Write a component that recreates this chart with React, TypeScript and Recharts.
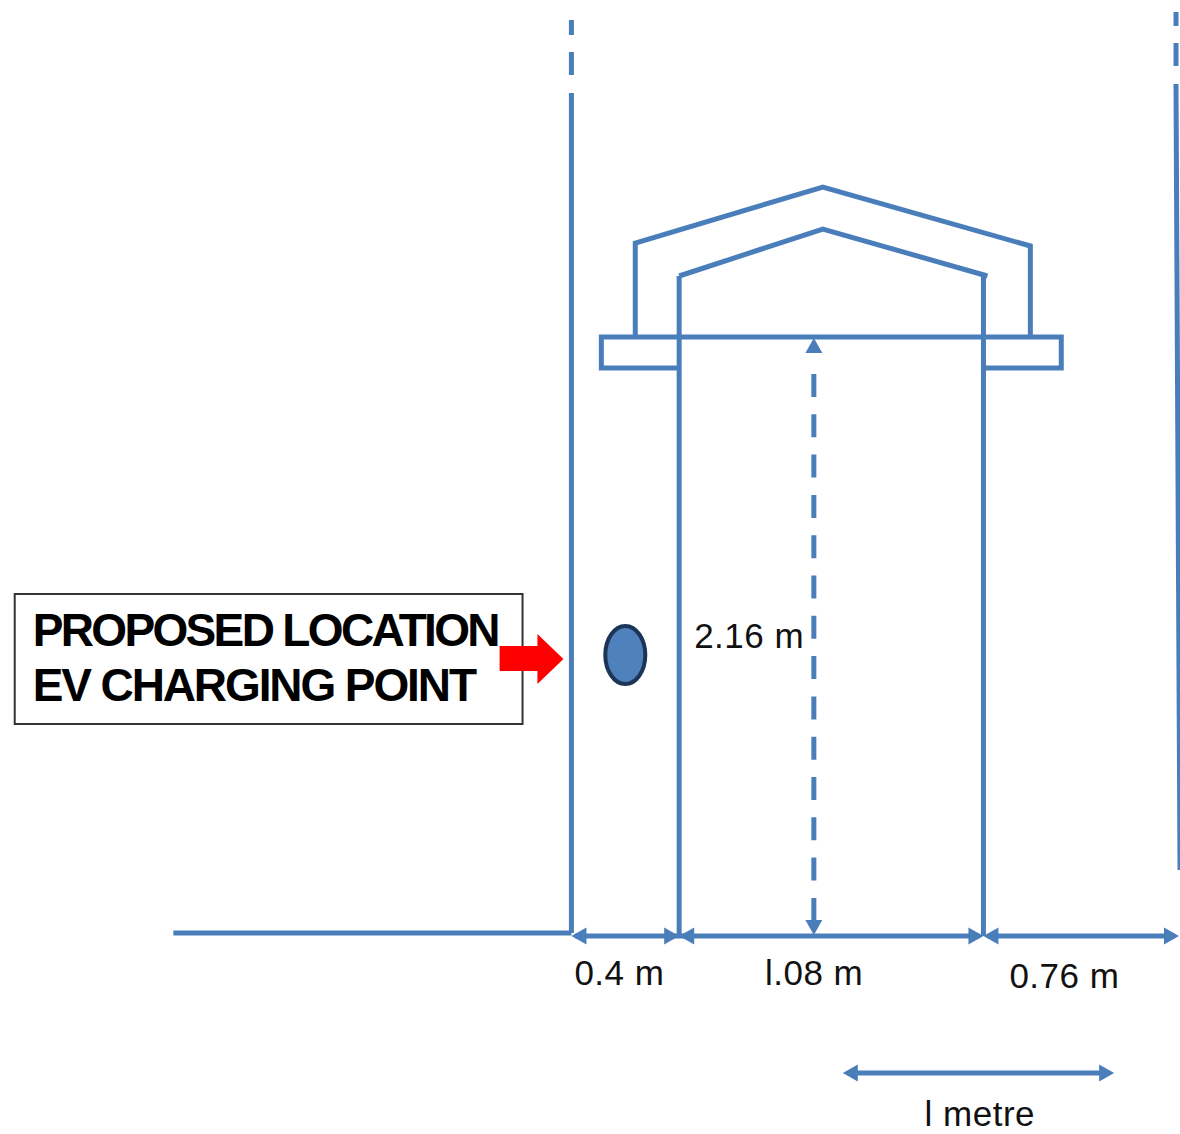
import { ComposedChart, Line, ReferenceArea, Scatter, XAxis, YAxis } from "recharts";

const WIDTH = 1180;
const HEIGHT = 1134;
const BLUE = "#4a7ebb";

type Pt = { x: number; y: number };

// walls
const leftWallDashes: Pt[][] = [
  [{ x: 572, y: 20 }, { x: 572, y: 35 }],
  [{ x: 572, y: 52 }, { x: 572, y: 75 }],
];
const leftWall: Pt[] = [{ x: 572, y: 93 }, { x: 572, y: 933 }];
const rightWallDashes: Pt[][] = [
  [{ x: 1178, y: 12 }, { x: 1178, y: 26 }],
  [{ x: 1178, y: 43 }, { x: 1178, y: 66 }],
];
// drifts off the right edge of the picture on the way down
const rightWall: Pt[] = [{ x: 1178, y: 84 }, { x: 1182, y: 870 }];
const ground: Pt[] = [{ x: 173, y: 933 }, { x: 572, y: 933 }];

// porch
const roofOuter: Pt[] = [
  { x: 636, y: 336 },
  { x: 636, y: 243 },
  { x: 824, y: 187 },
  { x: 1032, y: 246 },
  { x: 1032, y: 336 },
];
const roofInner: Pt[] = [
  { x: 680, y: 276 },
  { x: 824, y: 229 },
  { x: 989, y: 276 },
];
const canopy: Pt[] = [
  { x: 680, y: 368 },
  { x: 602, y: 368 },
  { x: 602, y: 337 },
  { x: 1063, y: 337 },
  { x: 1063, y: 368 },
  { x: 985, y: 368 },
];
const doorLeft: Pt[] = [{ x: 680, y: 276 }, { x: 680, y: 936 }];
const doorRight: Pt[] = [{ x: 985, y: 276 }, { x: 985, y: 936 }];

// dimensions
const heightDim: Pt[] = [{ x: 815, y: 374 }, { x: 815, y: 925 }];
const widthDims: Pt[][] = [
  [{ x: 576, y: 936 }, { x: 694, y: 936 }],
  [{ x: 684, y: 936 }, { x: 981, y: 936 }],
  [{ x: 989, y: 936 }, { x: 1176, y: 936 }],
];
const metreDim: Pt[] = [{ x: 850, y: 1073 }, { x: 1110, y: 1073 }];

const arrowHeads = [
  { x: 572, y: 936, dir: "left" },
  { x: 680, y: 936, dir: "right" },
  { x: 680, y: 936, dir: "left" },
  { x: 985, y: 936, dir: "right" },
  { x: 985, y: 936, dir: "left" },
  { x: 1181, y: 936, dir: "right" },
  { x: 844, y: 1073, dir: "left" },
  { x: 1116, y: 1073, dir: "right" },
  { x: 815, y: 338, dir: "up" },
  { x: 815, y: 935, dir: "down" },
];

const pointerShaft: Pt[] = [{ x: 500, y: 658.5 }, { x: 540, y: 658.5 }];
const pointerTip = [{ x: 564, y: 659 }];
const chargingPoint = [{ x: 626, y: 655 }];

const calloutBox = { x1: 14, x2: 523, y1: 594, y2: 724 };
const calloutLines = [
  { x: 32, y: 646, text: "PROPOSED LOCATION" },
  { x: 32, y: 701, text: "EV CHARGING POINT" },
];
const calloutSpacing: Record<string, number> = {
  "PROPOSED LOCATION": -2.65,
  "EV CHARGING POINT": -2.1,
};
const dimLabels = [
  { x: 695, y: 648, text: "2.16 m" },
  { x: 575, y: 985, text: "0.4 m" },
  { x: 766, y: 985, text: "l.08 m" },
  { x: 1011, y: 988, text: "0.76 m" },
  { x: 926, y: 1126, text: "l metre" },
];

function Head(props: any) {
  const { cx, cy, payload } = props;
  const len = 15;
  const w = 8.5;
  const pts: Record<string, string> = {
    left: `${cx},${cy} ${cx + len},${cy - w} ${cx + len},${cy + w}`,
    right: `${cx},${cy} ${cx - len},${cy - w} ${cx - len},${cy + w}`,
    up: `${cx},${cy} ${cx - w},${cy + len} ${cx + w},${cy + len}`,
    down: `${cx},${cy} ${cx - w},${cy - len} ${cx + w},${cy - len}`,
  };
  return <polygon points={pts[payload.dir]} fill={BLUE} />;
}

function PointerTip(props: any) {
  const { cx, cy } = props;
  return <polygon points={`${cx},${cy} ${cx - 26},${cy - 25} ${cx - 26},${cy + 25}`} fill="#ff0000" />;
}

function ChargeDot(props: any) {
  return <ellipse cx={props.cx} cy={props.cy} rx={20} ry={29} fill="#4f81bd" stroke="#1c3557" strokeWidth={4} />;
}

function CalloutText(props: any) {
  return (
    <text
      x={props.cx}
      y={props.cy}
      fontFamily="Liberation Sans"
      fontWeight={700}
      fontSize={46}
      letterSpacing={calloutSpacing[props.payload.text]}
      fill="#000"
    >
      {props.payload.text}
    </text>
  );
}

function DimText(props: any) {
  return (
    <text x={props.cx} y={props.cy} fontFamily="Liberation Sans" fontSize={35} letterSpacing={0.5} fill="#111">
      {props.payload.text}
    </text>
  );
}

function seg(data: Pt[], key: string, extra: any = {}) {
  return (
    <Line
      key={key}
      data={data}
      dataKey="y"
      type="linear"
      stroke={BLUE}
      strokeWidth={5}
      dot={false}
      activeDot={false}
      isAnimationActive={false}
      {...extra}
    />
  );
}

export default function App() {
  return (
    <div style={{ position: "absolute", left: 0, top: 0, width: WIDTH, height: HEIGHT, background: "#fff", overflow: "hidden" }}>
      <ComposedChart width={WIDTH} height={HEIGHT} margin={{ top: 0, right: 0, bottom: 0, left: 0 }}>
        <XAxis type="number" dataKey="x" domain={[-0.75, WIDTH - 0.75]} hide />
        <YAxis type="number" dataKey="y" domain={[0, HEIGHT]} reversed hide />
        <ReferenceArea {...calloutBox} fill="#fff" fillOpacity={1} stroke="#333" strokeWidth={2} ifOverflow="visible" />
        {leftWallDashes.map((d, i) => seg(d, `ld${i}`))}
        {seg(leftWall, "leftWall")}
        {rightWallDashes.map((d, i) => seg(d, `rd${i}`))}
        {seg(rightWall, "rightWall")}
        {seg(ground, "ground")}
        {seg(roofOuter, "roofOuter")}
        {seg(roofInner, "roofInner")}
        {seg(canopy, "canopy")}
        {seg(doorLeft, "doorLeft")}
        {seg(doorRight, "doorRight")}
        {seg(heightDim, "heightDim", { strokeDasharray: "23 17.3" })}
        {widthDims.map((d, i) => seg(d, `wd${i}`))}
        {seg(metreDim, "metreDim")}
        <Scatter data={arrowHeads} shape={Head} isAnimationActive={false} />
        <Scatter data={calloutLines} shape={CalloutText} isAnimationActive={false} />
        {seg(pointerShaft, "pointerShaft", { stroke: "#ff0000", strokeWidth: 25 })}
        <Scatter data={pointerTip} shape={PointerTip} isAnimationActive={false} />
        <Scatter data={chargingPoint} shape={ChargeDot} isAnimationActive={false} />
        <Scatter data={dimLabels} shape={DimText} isAnimationActive={false} />
      </ComposedChart>
    </div>
  );
}
